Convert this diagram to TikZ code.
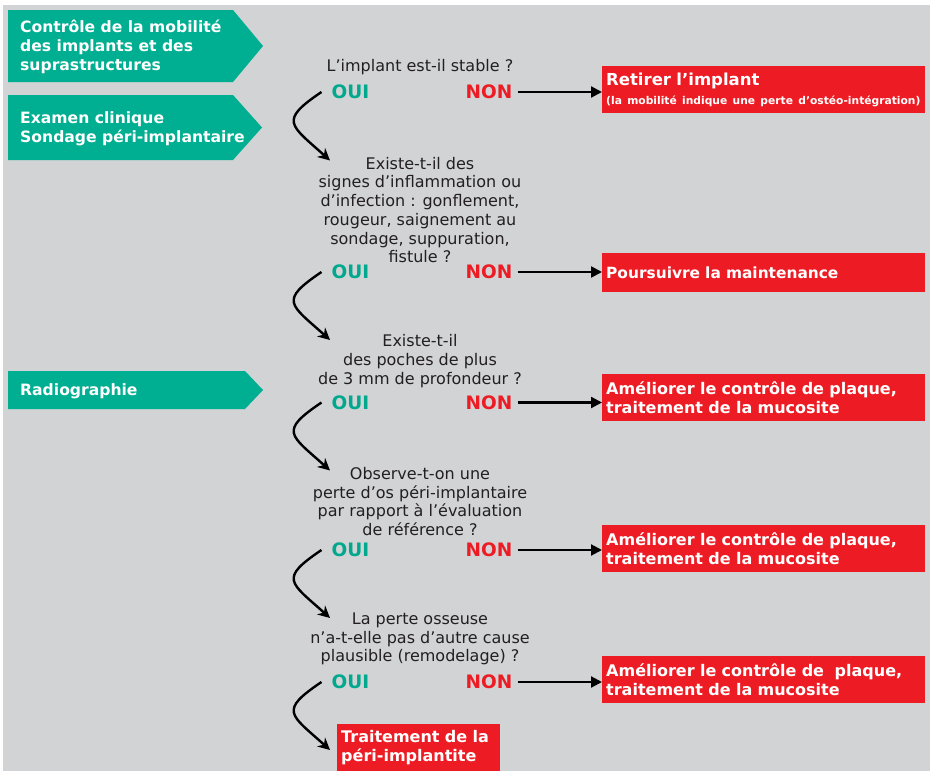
\documentclass[tikz,border=0pt]{standalone}
\usepackage{fontspec}
\setmainfont{DejaVu Sans}
\usetikzlibrary{arrows.meta}
\definecolor{bg}{HTML}{D1D3D4}
\definecolor{mygreen}{HTML}{00AE91}
\definecolor{ouigreen}{HTML}{00A88E}
\definecolor{myred}{HTML}{ED1C24}
\definecolor{ink}{HTML}{231F20}
\begin{document}
\begin{tikzpicture}[x=1pt,y=-1pt,
  question/.style={align=center, text=ink, inner sep=0pt, font=\fontsize{16}{18.7}\selectfont},
  ouilbl/.style={text=ouigreen, inner xsep=10pt, inner ysep=0pt, font=\fontsize{18.5}{20}\selectfont\bfseries},
  nonlbl/.style={text=myred, inner xsep=5pt, inner ysep=0pt, font=\fontsize{18.5}{20}\selectfont\bfseries},
  hline/.style={line width=2.2pt, -{Triangle[length=11pt,width=11pt]}},
  carrow/.style={line width=2.4pt, -{Stealth[length=12pt,width=12pt]}},
  redbox/.style={fill=myred, text=white, anchor=north west, minimum width=323pt, minimum height=47pt, text width=315pt, align=left, inner xsep=4pt, inner ysep=0pt, font=\fontsize{16}{19}\selectfont\bfseries},
  greentext/.style={anchor=west, text=white, align=left, inner sep=0pt, font=\fontsize{15.6}{19}\selectfont\bfseries}
]
\useasboundingbox (0,0) rectangle (930,771);
\fill[bg] (3,5) rectangle (930,771);

% green arrow boxes
\fill[mygreen] (8,10) -- (233,10) -- (263,46) -- (233,82) -- (8,82) -- cycle;
\node[greentext] (g1) at (20,46.5) {Contrôle de la mobilité\\des implants et des\\suprastructures};
\fill[mygreen] (8,95) -- (233,95) -- (262,127.5) -- (233,160) -- (8,160) -- cycle;
\node[greentext] (g2) at (20,129) {Examen clinique\\Sondage péri-implantaire};
\fill[mygreen] (8,371) -- (245,371) -- (263,390) -- (245,409) -- (8,409) -- cycle;
\node[greentext] (g3) at (20,391) {Radiographie};

% questions
\node[question] (q1) at (420,66.7) {L’implant est-il stable ?};
\node[question] (q2) at (420,210) {Existe-t-il des\\signes d’inflammation ou\\d’infection : gonflement,\\rougeur, saignement au\\sondage, suppuration,\\fistule ?};
\node[question] (q3) at (420,361) {Existe-t-il\\des poches de plus\\de 3 mm de profondeur ?};
\node[question] (q4) at (420,501.5) {Observe-t-on une\\perte d’os péri-implantaire\\par rapport à l’évaluation\\de référence ?};
\node[question] (q5) at (420,639) {La perte osseuse\\n’a-t-elle pas d’autre cause\\plausible (remodelage) ?};

% OUI / NON
\foreach \i/\y in {1/92,2/272,3/402.5,4/550,5/682}{
  \node[ouilbl] (oui\i) at (350.5,\y) {OUI};
  \node[nonlbl] (non\i) at (489,\y) {NON};
}

% red boxes
\node[redbox] (r1) at (602,66) {{\fontsize{16.5}{19}\selectfont Retirer l’implant}\\[0pt]{\fontsize{10.7}{13}\selectfont (la mobilité indique une perte d’ostéo-intégration)}};
\node[redbox, minimum height=39pt, font=\fontsize{15.4}{19}\selectfont\bfseries] (r2) at (602,253) {Poursuivre la maintenance};
\node[redbox] (r3) at (602,374) {Améliorer le contrôle de plaque,\\traitement de la mucosite};
\node[redbox] (r4) at (602,525) {Améliorer le contrôle de plaque,\\traitement de la mucosite};
\node[redbox] (r5) at (602,656) {Améliorer le contrôle de\ \ plaque,\\traitement de la mucosite};
\node[redbox, minimum width=163pt, text width=155pt] (r6) at (337,724) {Traitement de la\\péri-implantite};

% horizontal arrows
\foreach \i in {1,...,5}{
  \draw[hline] (non\i.east) -- (non\i.east -| r\i.west);
}

% curved arrows
\coordinate (c1) at (330,160.5);
\coordinate (c2) at (330,340);
\coordinate (c3) at (330,470.5);
\coordinate (c4) at (330,618);
\coordinate (c5) at (330,750);
\foreach \i in {1,...,5}{
  \draw[carrow] (oui\i.west) .. controls +(-43,29) and +(-40,-36) .. (c\i);
}
\end{tikzpicture}
\end{document}
